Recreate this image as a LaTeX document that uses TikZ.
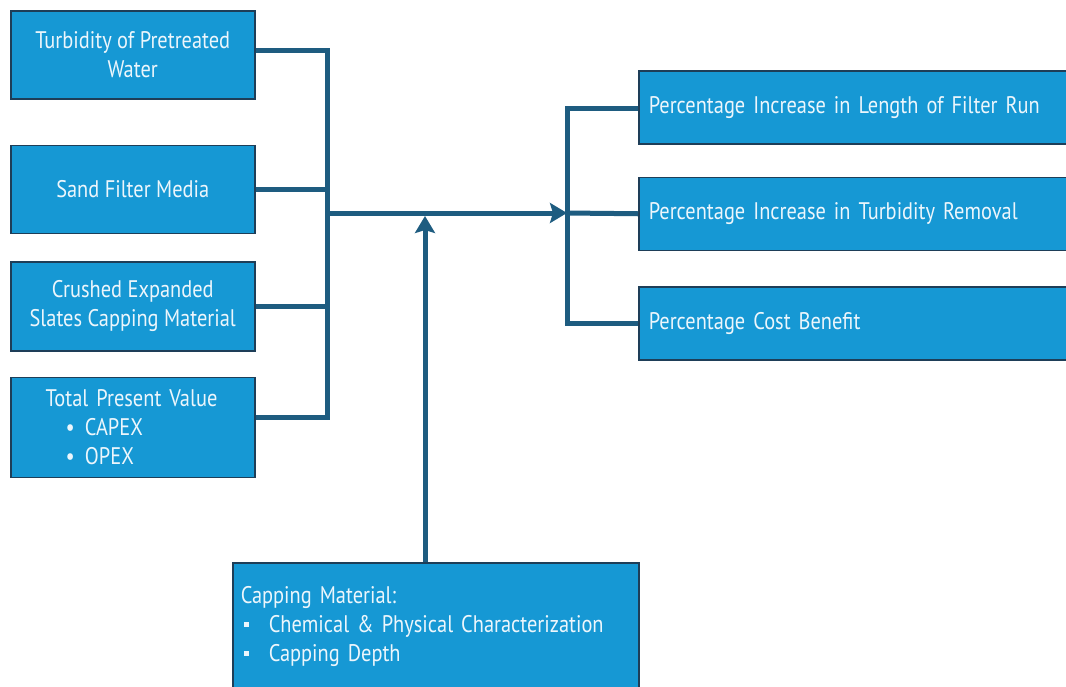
\documentclass[tikz,border=0pt]{standalone}
\usepackage{fontspec}
\setmainfont{PT Sans}[FakeStretch=0.85]
\usepackage{xcolor}
\usepackage{tikz}
\usetikzlibrary{arrows.meta, positioning}
\definecolor{boxblue}{RGB}{22,152,212}
\definecolor{boxedge}{RGB}{30,62,88}
\definecolor{linkblue}{RGB}{30,92,128}
\definecolor{paletext}{RGB}{236,246,252}

\begin{document}
\begin{tikzpicture}[
        x=1pt, y=-1pt,
        inbox/.style={rectangle, draw=boxedge, fill=boxblue, line width=1.5pt, minimum width=244pt, inner sep=0pt, align=center, text=paletext, font=\fontsize{24}{29}\selectfont},
        outbox/.style={rectangle, draw=boxedge, fill=boxblue, line width=1.5pt, anchor=north west, text width=420pt, inner xsep=10pt, minimum height=73pt, align=left, text=paletext, font=\fontsize{24}{29}\selectfont},
        link/.style={draw=linkblue, line width=5pt},
        arrow/.style={link, -{Stealth[length=17pt, width=20pt, inset=3pt]}}
    ]
    \useasboundingbox (0,0) rectangle (1066,686);

    % Left column: input parameters
    \node[inbox, anchor=north west, minimum height=88pt] (tw) at (10,10) {Turbidity of Pretreated\\Water};
    \node[inbox, minimum height=88pt, below=45pt of tw] (sf) {Sand Filter Media};
    \node[inbox, minimum height=89pt, below=27pt of sf] (ces) {Crushed Expanded\\Slates Capping Material};
    \node[inbox, minimum height=100pt, text width=244pt, align=left, below=25pt of ces] (tpv) {\hspace*{35pt}Total Present Value\\\hspace*{55pt}\textbullet\hspace{10pt}CAPEX\\\hspace*{55pt}\textbullet\hspace{10pt}OPEX};

    % Right column: outcomes
    \node[outbox] (lfr) at (638,70) {Percentage Increase in Length of Filter Run};
    \node[outbox, below=32pt of lfr] (trm) {Percentage Increase in Turbidity Removal};
    \node[outbox, below=35pt of trm] (pcb) {Percentage Cost Benefit};

    % Bottom: capping material
    \node[inbox, anchor=north west, minimum width=406pt, minimum height=128pt, text width=390pt, align=left] (cap) at (232,562) {Capping Material:\\\hspace*{3pt}\raisebox{6pt}{\rule{5pt}{5pt}}\hspace{20pt}Chemical \& Physical Characterization\\\hspace*{3pt}\raisebox{6pt}{\rule{5pt}{5pt}}\hspace{20pt}Capping Depth};

    % Junction points
    \coordinate (lbus) at (327,213);
    \coordinate (rbus) at (567,213);
    \coordinate (join) at (425,216);

    % Inputs to left bus
    \draw[link] ([yshift=4pt]tw.east) -| (lbus);
    \draw[link] (sf.east) -- (sf.east -| lbus);
    \draw[link] (ces.east) -- (ces.east -| lbus);
    \draw[link] ([yshift=10pt]tpv.east) -| (lbus);

    % Main arrow and capping arrow
    \draw[arrow] (lbus) -- (rbus);
    \draw[arrow] (cap.north -| join) -- (join);

    % Right bus to outcomes
    \draw[link] ([yshift=-1.5pt]lfr.west) -| (rbus);
    \draw[link] (trm.west) -- (rbus);
    \draw[link] (pcb.west) -| (rbus);

\end{tikzpicture}
\end{document}
